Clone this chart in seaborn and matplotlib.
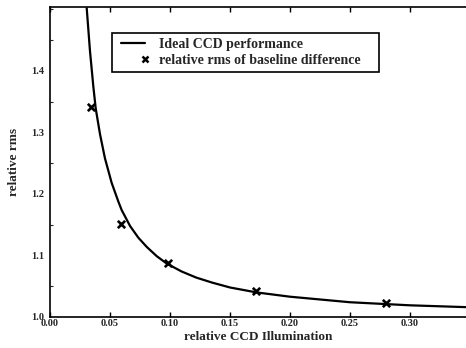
import matplotlib
matplotlib.use("Agg")
import matplotlib.pyplot as plt
from matplotlib.lines import Line2D
from matplotlib.legend_handler import HandlerLine2D
from matplotlib.ticker import MultipleLocator, FormatStrFormatter
import seaborn as sns
import pandas as pd

# ideal CCD performance curve
curve_x = [0.0306, 0.0333, 0.0361, 0.0381, 0.0417, 0.0458, 0.0514, 0.0569,
           0.0597, 0.0667, 0.0736, 0.0806, 0.0889, 0.0972, 0.1097, 0.122,
           0.135, 0.15, 0.172, 0.20, 0.25, 0.28, 0.30, 0.347]
curve_y = [1.502, 1.433, 1.375, 1.339, 1.297, 1.258, 1.218, 1.188,
           1.174, 1.148, 1.129, 1.114, 1.099, 1.087, 1.074, 1.064,
           1.056, 1.048, 1.040, 1.033, 1.024, 1.021, 1.019, 1.016]

# measured relative rms of the baseline difference
meas_x = [0.034, 0.059, 0.098, 0.172, 0.280]
meas_y = [1.341, 1.152, 1.088, 1.042, 1.023]

x_ticks = [0.00, 0.05, 0.10, 0.15, 0.20, 0.25, 0.30]
y_ticks = [1.0, 1.1, 1.2, 1.3, 1.4]

line_label = "Ideal CCD performance"
point_label = "relative rms of baseline difference"
x_label = "relative CCD Illumination"
y_label = "relative rms"

sns.set_theme(style="white")
plt.rcParams["font.family"] = ["Liberation Serif", "DejaVu Serif"]
plt.rcParams["font.weight"] = "bold"

curve = pd.DataFrame({"x": curve_x, "y": curve_y})
meas = pd.DataFrame({"x": meas_x, "y": meas_y})

fig = plt.figure(figsize=(4.66, 3.48), dpi=100)
ax = fig.add_axes([50 / 466, 31 / 348, 416 / 466, 310 / 348])

sns.lineplot(data=curve, x="x", y="y", ax=ax, color="black", linewidth=1.6,
             sort=False, legend=False)
sns.scatterplot(data=meas, x="x", y="y", ax=ax, marker="x", s=28,
                color="black", linewidth=1.9, legend=False, zorder=3)

ax.set_xlim(0, 0.3467)
ax.set_ylim(1.0, 1.504)
ax.set_xticks(x_ticks)
ax.set_yticks(y_ticks)
ax.xaxis.set_major_formatter(FormatStrFormatter("%.2f"))
ax.yaxis.set_major_formatter(FormatStrFormatter("%.1f"))
ax.yaxis.set_minor_locator(MultipleLocator(0.05))

for s in ["left", "bottom", "top"]:
    ax.spines[s].set_color("black")
    ax.spines[s].set_linewidth(1.2)
ax.spines["right"].set_visible(False)

ax.tick_params(axis="both", which="major", direction="in", length=3.5,
               width=1.0, color="black", labelsize=7.5)
ax.tick_params(axis="x", top=True, bottom=True, pad=1.5)
ax.tick_params(axis="y", pad=4)
ax.tick_params(axis="y", which="minor", direction="in", length=2,
               width=0.8, left=True)
for lab in ax.get_xticklabels() + ax.get_yticklabels():
    lab.set_fontweight("bold")

ax.set_xlabel(x_label, fontsize=9.5, fontweight="bold", labelpad=2)
ax.set_ylabel(y_label, fontsize=9.5, fontweight="bold", labelpad=8)


def marker_at_right(handle, orig):
    handle.update_from(orig)
    handle.set_markevery([1])


handles = [
    Line2D([0], [0], color="black", linewidth=1.6),
    Line2D([0], [0], color="black", linestyle="none", marker="x",
           markersize=5, markeredgewidth=1.8),
]
# legend box spans a fixed width; entries sit at its left
leg = ax.legend(handles, [line_label, point_label], loc="upper left",
                bbox_to_anchor=(62 / 416, 246 / 310, 267 / 416, 38 / 310),
                mode="expand", borderaxespad=0,
                numpoints=2, handlelength=2.3,
                handletextpad=0.7, borderpad=0.35, labelspacing=0.2,
                fancybox=False, framealpha=1, edgecolor="black",
                prop={"weight": "bold", "size": 10},
                handler_map={handles[1]: HandlerLine2D(update_func=marker_at_right)})
leg.get_frame().set_linewidth(1.2)

fig.savefig("out.png", dpi=100, facecolor="white")
